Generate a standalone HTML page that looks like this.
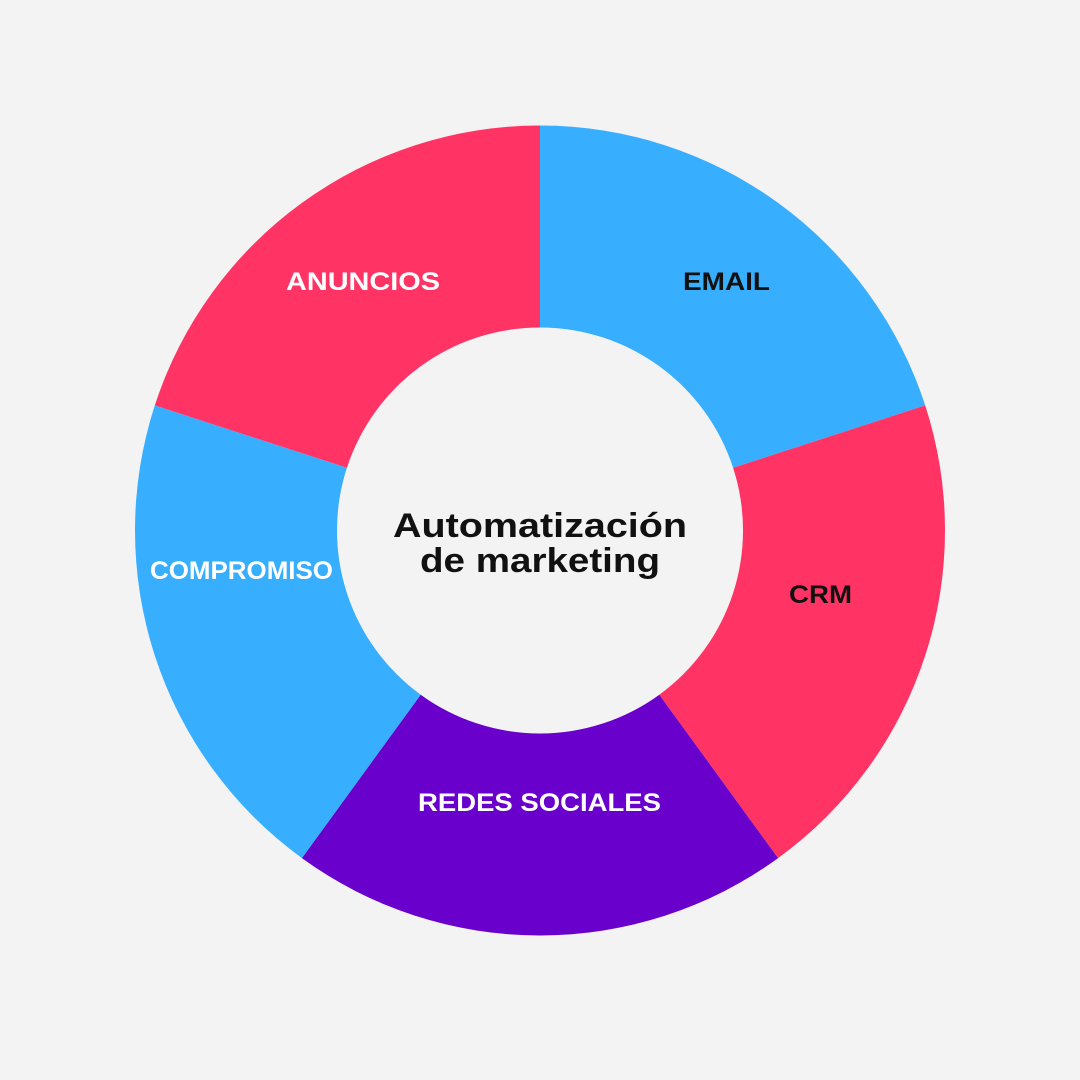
<!DOCTYPE html>
<html><head><meta charset="utf-8"><style>
html,body{margin:0;padding:0;background:#f3f3f3;}
svg{display:block}
text{font-family:"Liberation Sans",sans-serif;font-weight:bold;}
</style></head><body>
<svg width="1080" height="1080" viewBox="0 0 1080 1080" xmlns="http://www.w3.org/2000/svg">
<rect width="1080" height="1080" fill="#f3f3f3"/>
<path d="M540,125.5 A405,405 0 0 1 925.2,405.4 L733.1,467.8 A203,203 0 0 0 540,327.5 Z" fill="#38aeff"/>
<path d="M925.2,405.4 A405,405 0 0 1 778.1,858.1 L659.3,694.7 A203,203 0 0 0 733.1,467.8 Z" fill="#ff3464"/>
<path d="M778.1,858.1 A405,405 0 0 1 301.9,858.1 L420.7,694.7 A203,203 0 0 0 659.3,694.7 Z" fill="#6a00cc"/>
<path d="M301.9,858.1 A405,405 0 0 1 154.8,405.4 L346.9,467.8 A203,203 0 0 0 420.7,694.7 Z" fill="#38aeff"/>
<path d="M154.8,405.4 A405,405 0 0 1 540,125.5 L540,327.5 A203,203 0 0 0 346.9,467.8 Z" fill="#ff3464"/>
<g font-size="25" lengthAdjust="spacingAndGlyphs">
<text x="683" y="290" fill="#111" textLength="87" lengthAdjust="spacingAndGlyphs">EMAIL</text>
<text x="286" y="290" fill="#fff" textLength="154" lengthAdjust="spacingAndGlyphs">ANUNCIOS</text>
<text x="789" y="603" fill="#111" textLength="63" lengthAdjust="spacingAndGlyphs">CRM</text>
<text x="150" y="579" fill="#fff" textLength="183" lengthAdjust="spacingAndGlyphs">COMPROMISO</text>
<text x="418" y="811" fill="#fff" textLength="243" lengthAdjust="spacingAndGlyphs">REDES SOCIALES</text>
</g>
<g font-size="34" fill="#111">
<text x="393" y="537" textLength="294" lengthAdjust="spacingAndGlyphs">Automatización</text>
<text x="420" y="572" textLength="240" lengthAdjust="spacingAndGlyphs">de marketing</text>
</g>
</svg>
</body></html>
